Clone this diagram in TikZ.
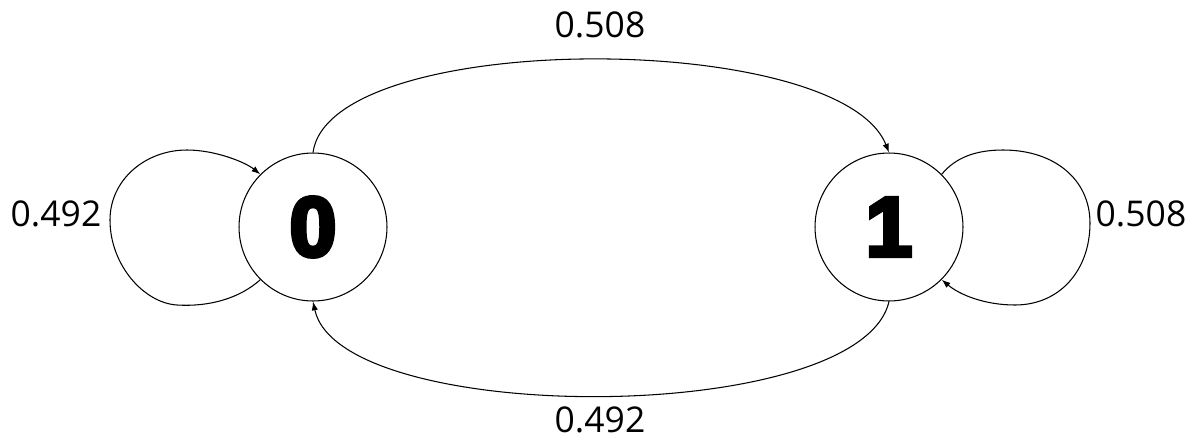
\documentclass[tikz,border=0pt]{standalone}
\usepackage{fontspec}
\setmainfont{Open Sans}
\newfontfamily\heavyfont{Liberation Sans}[BoldFeatures={FakeBold=5}]
\usetikzlibrary{arrows.meta}
\begin{document}
\begin{tikzpicture}[x=0.02cm,y=-0.02cm,
  state/.style={circle,draw,line width=0.6pt,minimum size=2.96cm,inner sep=0pt,
    font=\heavyfont\bfseries\fontsize{48}{52}\selectfont},
  edge/.style={line width=0.6pt,-{Latex[length=5pt,width=3.6pt]}},
  prob/.style={font=\fontsize{20.2}{24}\selectfont,inner sep=0pt}]
  \useasboundingbox (0,0) rectangle (1198,444);
  % the two states
  \node[state] (n0) at (313,227) {0};
  \node[state] (n1) at (889,227) {1};
  % transitions between the states
  \draw[edge] (n0.90) .. controls (330,29) and (840,29) .. (n1.90);
  \draw[edge] (n1.270) .. controls (860,427) and (340,427) .. (n0.270);
  % self loops
  \draw[edge] (n0.225) .. controls (240,298) and (210,307) .. (177,305)
    .. controls (144,303) and (110,265) .. (110,220)
    .. controls (110,180) and (145,150) .. (187,150)
    .. controls (215,150) and (245,162) .. (n0.135);
  \draw[edge] (n1.45) .. controls (955,158) and (975,150) .. (1003,150)
    .. controls (1055,150) and (1090,180) .. (1090,223)
    .. controls (1090,270) and (1060,305) .. (1015,305)
    .. controls (985,305) and (960,295) .. (n1.315);
  % transition probabilities
  \node[prob] (p00) at (56,214) {0.492};
  \node[prob] (p11) at (1141,214) {0.508};
  \node[prob] (p01) at (600,25) {0.508};
  \node[prob] (p10) at (600,420) {0.492};
\end{tikzpicture}
\end{document}
